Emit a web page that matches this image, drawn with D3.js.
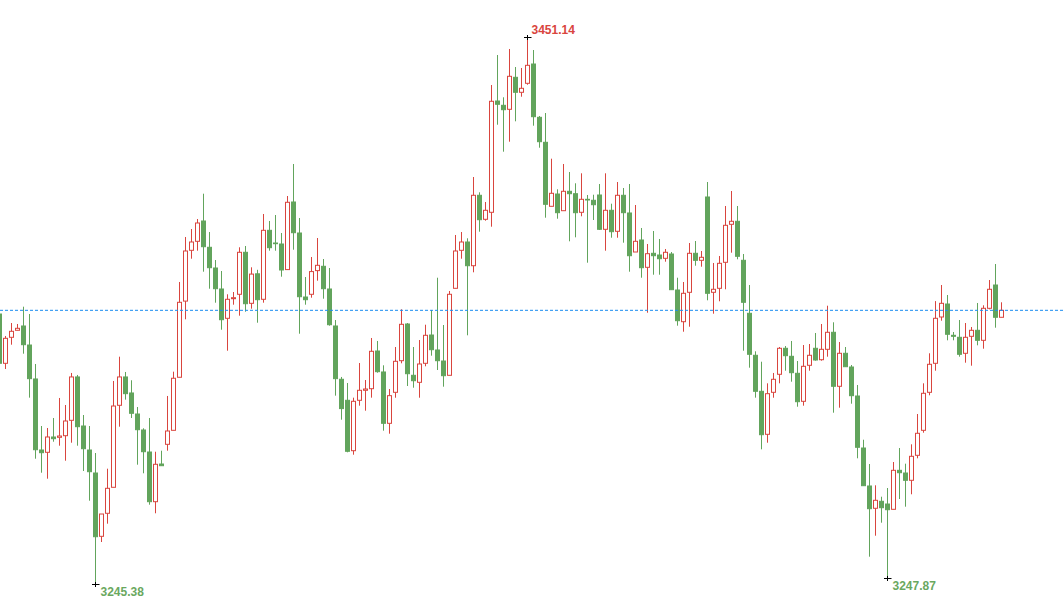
<!DOCTYPE html>
<html><head><meta charset="utf-8">
<script src="https://cdn.jsdelivr.net/npm/d3@7"></script>
<style>html,body{margin:0;padding:0;background:#fff;overflow:hidden}svg{display:block}</style>
</head><body>
<svg id="chart" width="1064" height="615"></svg>
<script>
const opens = [
3346.94,3328.42,3338.19,3340.82,3342.44,3335.29,3322.53,3295.84,3294.98,3300.73,3300.61,3301.22,
3307.00,3323.29,3304.86,3295.84,3287.20,3263.41,3272.06,3281.83,3312.64,3323.29,3317.27,3309.37,
3303.36,3295.09,3276.42,3290.58,3297.98,3303.24,3323.17,3351.79,3370.88,3374.26,3381.89,3372.01,
3364.23,3356.34,3345.33,3352.69,3354.35,3370.13,3350.96,3362.05,3352.47,3378.39,3373.62,3373.25,
3363.63,3389.03,3377.38,3353.33,3354.35,3363.25,3364.87,3356.34,3342.44,3322.42,3314.52,3295.58,
3314.52,3318.28,3318.88,3333.04,3325.16,3305.87,3317.52,3329.40,3343.19,3323.91,3321.28,3328.42,
3339.05,3333.42,3329.28,3323.91,3356.60,3370.88,3374.00,3365.09,3391.55,3382.53,3385.16,3426.98,
3425.36,3423.86,3435.88,3430.25,3433.63,3440.88,3420.85,3411.46,3387.41,3392.03,3385.76,3393.05,
3392.15,3385.16,3390.04,3389.67,3391.66,3378.77,3385.91,3378.02,3391.55,3384.90,3370.24,3374.75,
3364.49,3369.75,3369.11,3367.87,3369.49,3355.96,3344.05,3355.10,3369.75,3367.12,3390.91,3355.10,
3356.60,3366.37,3380.65,3381.78,3367.12,3347.21,3331.43,3317.90,3301.74,3317.52,3324.29,3334.06,
3331.05,3324.66,3314.14,3327.67,3334.06,3329.77,3333.68,3340.07,3319.78,3332.18,3327.03,3316.13,
3296.59,3282.32,3273.94,3276.57,3275.55,3273.56,3288.21,3287.20,3284.46,3293.85,3303.24,3317.52,
3328.42,3345.82,3350.70,3338.94,3338.19,3332.18,3338.56,3340.82,3337.06,3349.09,3357.84,3345.71];
const highs = [
3347.32,3338.68,3343.56,3343.19,3349.69,3346.94,3328.16,3304.86,3304.11,3307.87,3315.39,3312.75,
3324.79,3324.04,3308.99,3304.86,3294.71,3271.79,3288.82,3321.78,3330.90,3325.16,3322.04,3312.00,
3304.00,3307.87,3295.20,3295.58,3316.14,3325.28,3358.97,3375.88,3378.88,3382.64,3392.15,3377.75,
3367.23,3363.10,3354.35,3355.21,3372.01,3372.50,3364.49,3363.55,3384.52,3381.89,3384.14,3377.38,
3391.28,3403.31,3383.02,3360.84,3368.36,3375.50,3367.61,3364.23,3344.69,3323.29,3321.02,3315.51,
3328.53,3322.14,3337.93,3336.80,3327.67,3318.76,3334.54,3348.71,3343.56,3334.54,3337.17,3342.92,
3348.45,3360.58,3342.81,3355.59,3376.63,3377.75,3375.39,3398.42,3392.67,3389.03,3432.99,3444.26,
3428.37,3446.52,3439.75,3439.38,3451.14,3446.14,3421.34,3422.47,3405.30,3393.80,3403.31,3400.30,
3396.06,3399.81,3391.66,3391.77,3395.79,3399.81,3388.39,3396.54,3394.29,3395.79,3387.90,3379.26,
3373.25,3378.13,3375.13,3371.37,3370.24,3360.58,3358.97,3373.62,3374.37,3370.62,3396.54,3366.11,
3368.74,3387.53,3393.16,3387.53,3369.49,3357.84,3332.93,3329.02,3320.90,3324.79,3334.54,3334.92,
3336.80,3329.28,3335.29,3335.67,3339.81,3343.19,3350.06,3343.83,3336.42,3334.54,3327.78,3320.27,
3299.71,3290.58,3282.58,3278.29,3281.56,3291.33,3296.59,3290.70,3297.98,3309.37,3320.90,3332.18,
3351.79,3357.84,3354.08,3340.18,3344.69,3343.56,3342.06,3351.08,3350.21,3359.72,3365.73,3351.34];
const lows = [
3327.41,3326.28,3335.41,3340.82,3332.03,3315.51,3292.57,3287.31,3285.06,3298.96,3297.46,3291.82,
3298.58,3297.46,3287.95,3276.79,3245.38,3261.27,3268.15,3281.83,3304.60,3314.76,3307.87,3290.32,
3287.09,3275.29,3272.06,3289.94,3295.58,3303.24,3323.17,3344.95,3367.72,3370.73,3362.84,3356.45,
3351.19,3341.04,3333.15,3350.44,3346.31,3347.81,3348.94,3343.67,3351.19,3370.73,3370.73,3360.96,
3363.63,3371.10,3339.54,3350.44,3353.07,3359.46,3352.69,3342.55,3316.26,3307.23,3294.98,3294.08,
3312.49,3310.61,3315.51,3324.89,3303.10,3301.97,3315.49,3328.42,3319.89,3319.25,3315.49,3327.29,
3331.28,3325.90,3319.63,3323.91,3356.60,3367.72,3338.94,3362.61,3377.87,3382.00,3379.75,3418.07,
3407.93,3411.69,3419.35,3428.59,3433.10,3417.70,3409.43,3383.13,3387.41,3382.75,3385.76,3374.26,
3375.76,3383.66,3366.22,3382.26,3378.51,3370.73,3375.61,3375.61,3373.74,3362.84,3370.24,3360.58,
3347.43,3361.71,3361.71,3366.60,3356.08,3342.55,3340.29,3342.17,3365.09,3364.72,3352.09,3347.06,
3351.72,3356.23,3369.98,3367.50,3333.15,3326.77,3315.51,3296.10,3298.58,3315.49,3320.90,3325.64,
3321.51,3312.11,3312.49,3325.64,3329.40,3329.40,3330.90,3309.86,3311.74,3327.14,3313.24,3292.72,
3282.43,3255.75,3263.64,3268.53,3247.87,3273.56,3277.43,3274.54,3279.20,3292.72,3302.34,3316.40,
3325.64,3344.43,3337.06,3337.06,3330.90,3328.65,3327.52,3335.18,3333.91,3348.71,3341.80,3345.71];
const closes = [
3328.42,3337.81,3340.44,3341.57,3335.41,3322.65,3295.95,3294.83,3300.73,3300.09,3301.10,3306.74,
3323.29,3304.60,3296.33,3287.69,3263.26,3271.79,3281.45,3312.37,3323.29,3317.01,3309.63,3303.47,
3295.20,3276.42,3290.47,3289.94,3302.98,3322.80,3351.34,3370.62,3374.00,3381.14,3372.23,3364.34,
3356.45,3344.80,3352.47,3353.07,3370.13,3350.81,3361.94,3352.32,3378.39,3371.86,3373.36,3363.48,
3388.92,3377.49,3353.44,3352.32,3362.88,3365.24,3356.45,3342.92,3322.65,3311.40,3295.35,3314.14,
3318.28,3318.76,3332.93,3325.27,3305.87,3316.26,3329.17,3343.07,3324.51,3321.88,3328.16,3338.94,
3333.53,3329.40,3323.76,3354.35,3370.62,3374.00,3365.09,3391.55,3382.38,3385.91,3426.87,3425.74,
3423.71,3436.26,3430.25,3431.75,3440.39,3421.08,3411.69,3388.16,3392.30,3385.01,3393.05,3392.15,
3385.01,3390.04,3389.78,3388.01,3378.77,3385.91,3377.87,3391.55,3385.01,3368.85,3374.26,3364.34,
3369.60,3368.85,3367.72,3370.13,3356.08,3344.43,3354.72,3369.75,3367.12,3368.25,3354.72,3356.23,
3365.99,3380.27,3381.78,3368.62,3351.34,3331.80,3317.90,3301.59,3317.00,3322.41,3334.06,3331.28,
3324.89,3313.99,3327.29,3331.43,3329.66,3333.68,3340.07,3319.78,3332.18,3327.14,3316.25,3296.86,
3282.43,3273.79,3276.94,3274.16,3273.41,3288.21,3287.31,3284.46,3293.47,3302.12,3317.15,3328.05,
3345.33,3350.96,3339.32,3338.56,3331.80,3338.19,3340.82,3337.06,3349.09,3356.23,3345.71,3348.33];

const UP = "#d9453e", DOWN = "#62a45c", LINE = "#1a8cf0";
const N = closes.length;
const idx = d3.range(N);

const svg = d3.select("#chart");
const x = d3.scaleBand().domain(idx).range([-3.5, -3.5 + 6 * N]).padding(0);
const y = d3.scaleLinear().domain([d3.min(lows), d3.max(highs)]).range([584.3, 36.7]);
const cx = i => x(i) + x.bandwidth() / 2;
const wx = i => Math.floor(cx(i)) + 0.5;

const g = svg.append("g");
const c = g.selectAll("g.c").data(idx).join("g").attr("class", "c");
c.append("line")
  .attr("x1", wx).attr("x2", wx)
  .attr("y1", i => y(highs[i])).attr("y2", i => y(lows[i]))
  .attr("stroke", i => closes[i] >= opens[i] ? UP : DOWN).attr("stroke-width", 1);
c.append("rect")
  .attr("x", i => cx(i) - 2).attr("width", 4)
  .attr("y", i => y(Math.max(opens[i], closes[i])))
  .attr("height", i => Math.max(0.6, Math.abs(y(opens[i]) - y(closes[i]))))
  .attr("fill", i => closes[i] >= opens[i] ? "#ffffff" : DOWN)
  .attr("stroke", i => closes[i] >= opens[i] ? UP : DOWN).attr("stroke-width", 1);

// last price line
const lastY = y(closes[N - 1]);
svg.append("line").attr("x1", 0).attr("x2", 1064).attr("y1", lastY).attr("y2", lastY)
  .attr("stroke", LINE).attr("stroke-width", 1).attr("stroke-dasharray", "3,2");

// extreme markers
const hiIdx = [d3.maxIndex(highs)];
const loIdx = [d3.minIndex(lows), 100 + d3.minIndex(lows.slice(100))];
function cross(i, v) {
  const px = wx(i), py = Math.round(y(v)) + 0.5;
  svg.append("line").attr("x1", px - 3.5).attr("x2", px + 4).attr("y1", py).attr("y2", py).attr("stroke", "#000");
  svg.append("line").attr("x1", px).attr("x2", px).attr("y1", py - 2.5).attr("y2", py + 2.5).attr("stroke", "#000");
}
hiIdx.forEach(i => {
  cross(i, highs[i]);
  svg.append("text").attr("x", cx(i) + 4).attr("y", y(highs[i]) - 3)
    .attr("fill", UP).attr("font-family", "Liberation Sans, Arial, sans-serif")
    .attr("font-size", 12).attr("font-weight", "bold").text(highs[i].toFixed(2));
});
loIdx.forEach(i => {
  cross(i, lows[i]);
  svg.append("text").attr("x", cx(i) + 5).attr("y", y(lows[i]) + 12)
    .attr("fill", "#6aa85f").attr("font-family", "Liberation Sans, Arial, sans-serif")
    .attr("font-size", 12).attr("font-weight", "bold").text(lows[i].toFixed(2));
});
</script>
</body></html>
